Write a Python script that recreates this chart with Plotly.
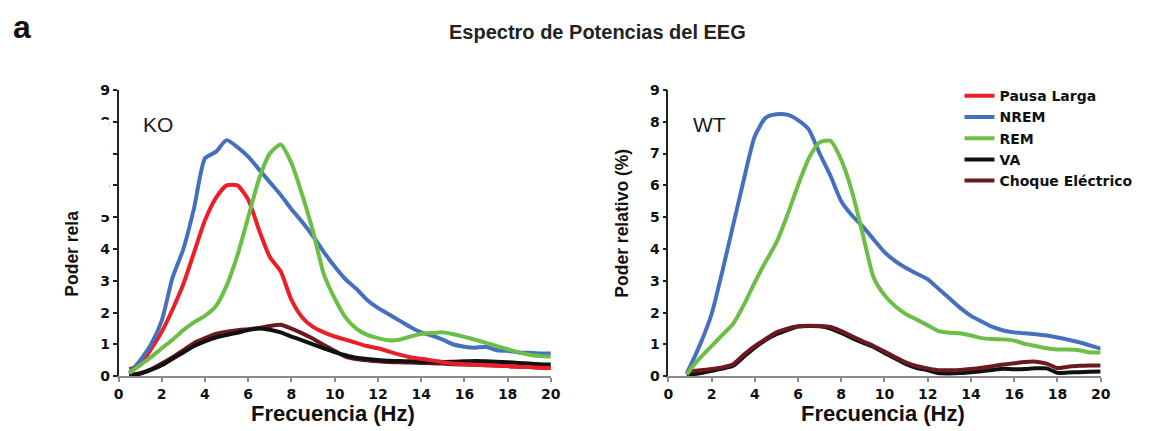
import plotly.graph_objects as go

# ---------------- data ----------------
freq_ko = [0.5, 1.0, 1.5, 2.0, 2.5, 3.0, 3.5, 4.0, 4.5, 5.0, 5.5, 6.0, 6.5, 7.0, 7.5, 8.0,
           8.5, 9.0, 9.5, 10.0, 10.5, 11.0, 11.5, 12.0, 12.5, 13.0, 13.5, 14.0, 14.5, 15.0,
           15.5, 16.0, 16.5, 17.0, 17.5, 18.0, 18.5, 19.0, 19.5, 20.0]

ko_pausa = [0.22, 0.35, 0.85, 1.4, 2.1, 2.9, 3.9, 4.9, 5.6, 6.0, 6.0, 5.55, 4.6, 3.75, 3.3, 2.4,
            1.85, 1.55, 1.38, 1.25, 1.15, 1.05, 0.95, 0.88, 0.78, 0.68, 0.6, 0.55, 0.5, 0.45,
            0.4, 0.38, 0.36, 0.35, 0.33, 0.32, 0.3, 0.29, 0.27, 0.26]
ko_nrem = [0.1, 0.5, 1.0, 1.75, 3.1, 4.0, 5.3, 6.85, 7.05, 7.42, 7.2, 6.9, 6.5, 6.1, 5.7, 5.25,
           4.85, 4.4, 3.9, 3.45, 3.05, 2.75, 2.4, 2.15, 1.95, 1.75, 1.55, 1.38, 1.28, 1.15,
           1.0, 0.93, 0.9, 0.93, 0.82, 0.8, 0.75, 0.74, 0.72, 0.72]
ko_rem = [0.1, 0.35, 0.6, 0.88, 1.15, 1.45, 1.7, 1.9, 2.2, 2.85, 3.8, 5.0, 6.2, 7.0, 7.28, 6.7,
          5.7, 4.55, 3.2, 2.45, 1.85, 1.5, 1.3, 1.2, 1.13, 1.15, 1.25, 1.33, 1.36, 1.38,
          1.32, 1.24, 1.15, 1.05, 0.95, 0.85, 0.75, 0.68, 0.64, 0.62]
ko_va = [0.03, 0.08, 0.2, 0.35, 0.55, 0.75, 0.95, 1.1, 1.22, 1.3, 1.37, 1.45, 1.5, 1.46, 1.38, 1.25,
         1.13, 1.0, 0.88, 0.76, 0.66, 0.58, 0.54, 0.51, 0.49, 0.48, 0.47, 0.46, 0.46, 0.45,
         0.46, 0.47, 0.48, 0.47, 0.46, 0.44, 0.42, 0.4, 0.38, 0.37]
ko_choque = [0.03, 0.1, 0.22, 0.4, 0.6, 0.82, 1.05, 1.2, 1.33, 1.4, 1.45, 1.48, 1.52, 1.58, 1.62, 1.5,
             1.35, 1.18, 0.98, 0.8, 0.62, 0.54, 0.5, 0.47, 0.45, 0.44, 0.43, 0.42, 0.41, 0.4,
             0.38, 0.37, 0.36, 0.35, 0.34, 0.32, 0.3, 0.29, 0.28, 0.27]

freq_wt = [0.85, 1.0, 1.5, 2.0, 2.5, 3.0, 3.5, 4.0, 4.5, 5.0, 5.5, 6.0, 6.5, 7.0, 7.5, 8.0,
           8.5, 9.0, 9.5, 10.0, 10.5, 11.0, 11.5, 12.0, 12.5, 13.0, 13.5, 14.0, 14.5, 15.0,
           15.5, 16.0, 16.5, 17.0, 17.5, 18.0, 18.5, 19.0, 19.5, 20.0]

wt_nrem = [0.1, 0.3, 1.05, 1.95, 3.3, 4.75, 6.2, 7.54, 8.12, 8.23, 8.22, 8.05, 7.75, 7.0, 6.3, 5.5,
           5.05, 4.7, 4.3, 3.9, 3.62, 3.4, 3.22, 3.05, 2.75, 2.45, 2.15, 1.9, 1.72, 1.55,
           1.44, 1.38, 1.35, 1.32, 1.28, 1.22, 1.15, 1.07, 0.97, 0.87]
wt_rem = [0.05, 0.2, 0.6, 0.95, 1.3, 1.65, 2.25, 2.95, 3.6, 4.2, 5.05, 6.0, 6.85, 7.35, 7.4, 6.8,
          5.8, 4.45, 3.1, 2.55, 2.2, 1.95, 1.78, 1.6, 1.42, 1.37, 1.35, 1.28, 1.2, 1.17,
          1.16, 1.12, 1.02, 0.95, 0.88, 0.84, 0.84, 0.82, 0.75, 0.75]
wt_va = [0.03, 0.05, 0.1, 0.17, 0.24, 0.33, 0.62, 0.9, 1.14, 1.32, 1.45, 1.56, 1.58, 1.57, 1.5, 1.36,
         1.2, 1.06, 0.92, 0.73, 0.56, 0.38, 0.26, 0.19, 0.1, 0.09, 0.1, 0.13, 0.16, 0.2,
         0.24, 0.22, 0.23, 0.25, 0.25, 0.11, 0.12, 0.13, 0.14, 0.15]
wt_choque = [0.15, 0.16, 0.19, 0.23, 0.28, 0.38, 0.68, 0.95, 1.17, 1.38, 1.5, 1.57, 1.59, 1.58, 1.55, 1.42,
             1.26, 1.1, 0.95, 0.78, 0.6, 0.43, 0.32, 0.25, 0.19, 0.19, 0.2, 0.23, 0.27, 0.32,
             0.37, 0.41, 0.45, 0.46, 0.4, 0.26, 0.3, 0.33, 0.34, 0.34]

x_ticks = [0, 2, 4, 6, 8, 10, 12, 14, 16, 18, 20]
y_ticks = [0, 1, 2, 3, 4, 5, 6, 7, 8, 9]

series_names = ["Pausa Larga", "NREM", "REM", "VA", "Choque Eléctrico"]

# ---------------- style ----------------
C_RED = "#EA1F28"
C_BLUE = "#4570BE"
C_GREEN = "#6BBE46"
C_BLACK = "#111111"
C_BROWN = "#6B1A1F"
FONT = "Liberation Sans, Arial, sans-serif"
WIDE = "DejaVu Sans, Liberation Sans, sans-serif"
LW = 4

W, H = 1160, 431

def px_x(p):
    return p / W

def px_y(p):
    return 1 - p / H

fig = go.Figure()

def add(x, y, name, color, xa, ya, show, rank):
    fig.add_trace(go.Scatter(
        x=x, y=y, name=name, mode="lines",
        line=dict(color=color, width=LW, shape="spline", smoothing=0.6),
        xaxis=xa, yaxis=ya, showlegend=show, legendrank=rank,
    ))

# KO panel (left)
add(freq_ko, ko_choque, series_names[4], C_BROWN, "x", "y", True, 5)
add(freq_ko, ko_va, series_names[3], C_BLACK, "x", "y", True, 4)
add(freq_ko, ko_pausa, series_names[0], C_RED, "x", "y", True, 1)
add(freq_ko, ko_nrem, series_names[1], C_BLUE, "x", "y", True, 2)
add(freq_ko, ko_rem, series_names[2], C_GREEN, "x", "y", True, 3)

# WT panel (right)
add(freq_wt, wt_va, series_names[3], C_BLACK, "x2", "y2", False, 4)
add(freq_wt, wt_choque, series_names[4], C_BROWN, "x2", "y2", False, 5)
add(freq_wt, wt_nrem, series_names[1], C_BLUE, "x2", "y2", False, 2)
add(freq_wt, wt_rem, series_names[2], C_GREEN, "x2", "y2", False, 3)

tickfont = dict(family=WIDE, size=14, color="#111111", weight="bold")

def xaxis(domain, anchor):
    return dict(
        domain=domain, anchor=anchor, range=[0, 20], tickvals=x_ticks,
        showgrid=False, zeroline=False, showline=True, linecolor="#8a8a8a", linewidth=1.5,
        ticks="outside", ticklen=4, tickcolor="#8a8a8a", tickwidth=1.5,
        tickfont=tickfont, fixedrange=True,
    )

def yaxis(anchor):
    return dict(
        domain=[px_y(382.5), px_y(85)], anchor=anchor, range=[0, 9], tickvals=y_ticks,
        showgrid=False, zeroline=False, showline=True, linecolor="#222222", linewidth=1.5,
        ticks="outside", ticklen=4, tickcolor="#222222", tickwidth=1.5,
        tickfont=tickfont, fixedrange=True,
    )

fig.update_layout(
    width=W, height=H,
    margin=dict(l=0, r=0, t=0, b=0),
    paper_bgcolor="white", plot_bgcolor="white",
    xaxis=xaxis([px_x(115), px_x(553)], "y"),
    yaxis=yaxis("x"),
    xaxis2=xaxis([px_x(672), px_x(1110)], "y2"),
    yaxis2=yaxis("x2"),
    showlegend=True,
    legend=dict(
        x=px_x(967), y=px_y(75), xanchor="left", yanchor="top",
        font=dict(family=WIDE, size=14, color="#111111", weight="bold"),
        bgcolor="rgba(0,0,0,0)", tracegroupgap=0, itemwidth=30,
        traceorder="normal",
    ),
)

ann = []
# panel letter and title
ann.append(dict(text="a", x=px_x(6), y=px_y(20), xref="paper", yref="paper",
                xanchor="left", yanchor="middle", showarrow=False,
                font=dict(family=FONT, size=32, color="#111111", weight="bold")))
ann.append(dict(text="Espectro de Potencias del EEG", x=px_x(600.5), y=px_y(25), xref="paper", yref="paper",
                xanchor="center", yanchor="middle", showarrow=False,
                font=dict(family=FONT, size=20, color="#222222", weight="bold")))
# group labels
ann.append(dict(text="KO", x=px_x(137.5), y=px_y(120.5), xref="paper", yref="paper",
                xanchor="left", yanchor="middle", showarrow=False,
                font=dict(family=FONT, size=21, color="#1a1a1a")))
ann.append(dict(text="WT", x=px_x(695), y=px_y(120.5), xref="paper", yref="paper",
                xanchor="left", yanchor="middle", showarrow=False,
                font=dict(family=FONT, size=21, color="#1a1a1a")))
# axis titles
for xc in (332, 889):
    ann.append(dict(text="Frecuencia (Hz)", x=px_x(xc), y=px_y(421), xref="paper", yref="paper",
                    xanchor="center", yanchor="middle", showarrow=False,
                    font=dict(family=FONT, size=22, color="#111111", weight="bold")))
ann.append(dict(text="Poder rela", x=px_x(67), y=px_y(255), xref="paper", yref="paper",
                xanchor="center", yanchor="middle", showarrow=False, textangle=-90,
                font=dict(family=FONT, size=17.5, color="#111111", weight="bold")))
ann.append(dict(text="Poder relativo (%)", x=px_x(625), y=px_y(223), xref="paper", yref="paper",
                xanchor="center", yanchor="middle", showarrow=False, textangle=-90,
                font=dict(family=FONT, size=17.5, color="#111111", weight="bold")))
fig.update_layout(annotations=ann)

# white patch that partly hides the left panel's upper tick labels, as in the original
fig.add_shape(type="rect", xref="paper", yref="paper",
              x0=px_x(92), x1=px_x(105.5), y0=px_y(215), y1=px_y(116),
              fillcolor="white", line=dict(width=0), layer="above")

fig.write_html("out.html")
